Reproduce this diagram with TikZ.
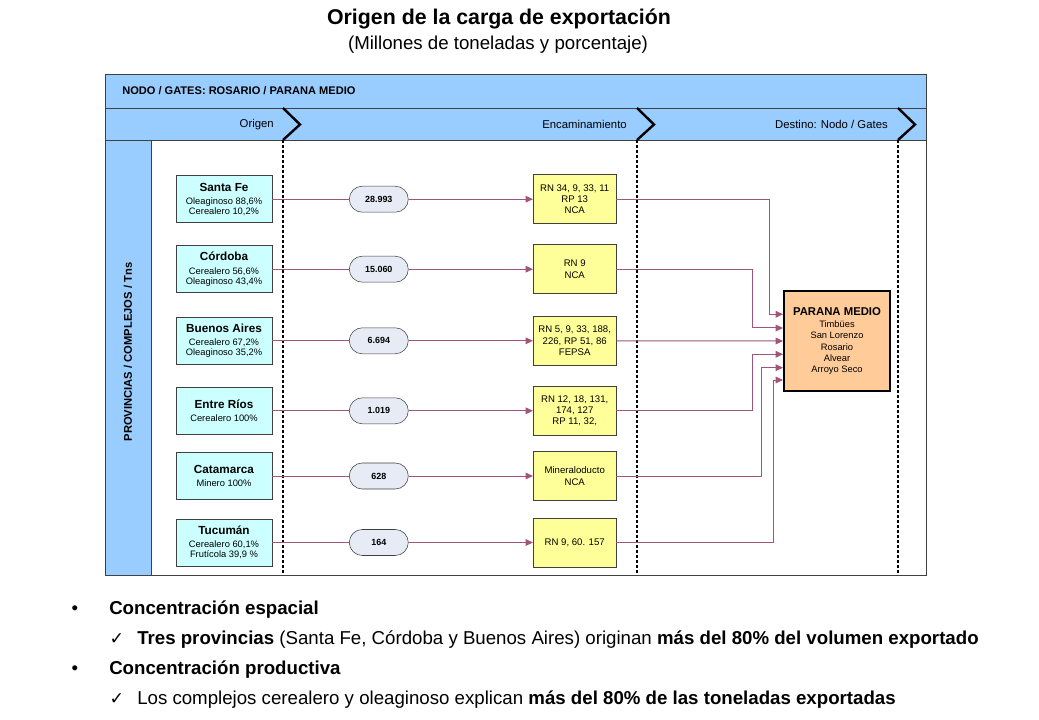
\documentclass[tikz,border=0pt]{standalone}
\usepackage{fontspec}
\setmainfont{Liberation Sans}
\newfontfamily\checkfont{DejaVu Sans}
\usetikzlibrary{arrows.meta}

\definecolor{hdrblue}{RGB}{153,204,255}
\definecolor{framegray}{RGB}{64,64,64}
\definecolor{provcyan}{RGB}{204,255,255}
\definecolor{routeyellow}{RGB}{255,255,153}
\definecolor{pillgray}{RGB}{230,235,245}
\definecolor{destorange}{RGB}{255,204,153}
\definecolor{linkcol}{RGB}{163,84,124}

\begin{document}
\begin{tikzpicture}[x=0.75pt,y=0.75pt,yscale=-1,xscale=1,
    prov/.style={draw=framegray, fill=provcyan, minimum width=72pt, minimum height=35.25pt, inner sep=0pt, align=center, font=\fontsize{7}{7.5}\selectfont},
    tonpill/.style={draw=framegray, fill=pillgray, rounded corners=9.75pt, minimum width=44.25pt, minimum height=19.5pt, inner sep=0pt, font=\fontsize{6.7}{8}\selectfont\bfseries},
    route/.style={draw=framegray, fill=routeyellow, minimum width=62.25pt, minimum height=36.75pt, inner sep=0pt, align=center, font=\fontsize{7.2}{8.5}\selectfont},
    link/.style={draw=linkcol, line width=0.75pt},
    linkarrow/.style={link, -{Triangle[length=5.5pt,width=5pt]}},
    gate/.style={line width=1.5pt, dash pattern=on 2.25pt off 1.5pt},
    chevron/.style={line width=1.8pt, line join=miter},
    colhead/.style={anchor=east, inner sep=0.75pt, font=\fontsize{8.5}{10}\selectfont}]
    \useasboundingbox (0,0) rectangle (1039,720);

    % Text Node
    \node (title) [anchor=base, inner sep=0.75pt, font=\fontsize{16}{19}\selectfont\bfseries] at (499,25) {Origen de la carga de exportación};
    % Text Node
    \node (subtitle) [anchor=base, inner sep=0.75pt, font=\fontsize{14}{16}\selectfont] at (498,50) {(Millones de toneladas y porcentaje)};

    %Shape: Rectangle [frame and header rows]
    \draw [draw=framegray, fill=hdrblue] (105,74) rectangle (926,108);
    \draw [draw=framegray, fill=hdrblue] (105,108) rectangle (926,140);
    \draw [draw=framegray, fill=white] (105,140) rectangle (926,575);
    \draw [draw=framegray, fill=hdrblue] (105,140) rectangle (151,575);

    % Text Node
    \node (nodo) [anchor=west, inner sep=0.75pt, font=\fontsize{8.3}{10}\selectfont\bfseries] at (121,91) {NODO / GATES: ROSARIO / PARANA MEDIO};
    % Text Node
    \node (hdorigen) [colhead] at (275,124.5) {Origen};
    \node (hdencam) [colhead] at (628,124.5) {Encaminamiento};
    \node (hddestino) [colhead] at (889,124.5) {Destino: Nodo / Gates};
    % Text Node
    \node (provband) [rotate=90, inner sep=0.75pt, font=\fontsize{8.4}{10}\selectfont\bfseries] at (128,352) {PROVINCIAS / COMPLEJOS / Tns};

    %Straight Lines [gates]
    \foreach \gx in {283,637,898} {
        \draw [gate] (\gx,140) -- (\gx,575);
        \draw [chevron] (\gx,108) -- (\gx+17,124.5) -- (\gx,140);
    }

    % Provinces
    \node (sf) [prov] at (224,199.2) {{\fontsize{8.8}{10}\selectfont\bfseries Santa Fe}\\[2.5pt] Oleaginoso 88,6\%\\ Cerealero 10,2\%};
    \node (cor) [prov] at (224,269.2) {{\fontsize{8.8}{10}\selectfont\bfseries Córdoba}\\[2.5pt] Cerealero 56,6\%\\ Oleaginoso 43,4\%};
    \node (ba) [prov] at (224,340.8) {{\fontsize{8.8}{10}\selectfont\bfseries Buenos Aires}\\[2.5pt] Cerealero 67,2\%\\ Oleaginoso 35,2\%};
    \node (er) [prov] at (224,410.8) {{\fontsize{8.8}{10}\selectfont\bfseries Entre Ríos}\\[2.5pt] Cerealero 100\%};
    \node (cat) [prov] at (224,476) {{\fontsize{8.8}{10}\selectfont\bfseries Catamarca}\\[2.5pt] Minero 100\%};
    \node (tuc) [prov] at (224,542.5) {{\fontsize{8.8}{10}\selectfont\bfseries Tucumán}\\[2.5pt] Cerealero 60,1\%\\ Frutícola 39,9 \%};

    % Tonnage pills
    \node (sfp) [tonpill] at (378.8,199.2) {28.993};
    \node (corp) [tonpill] at (378.8,269.2) {15.060};
    \node (bap) [tonpill] at (378.8,340.8) {6.694};
    \node (erp) [tonpill] at (378.8,410.8) {1.019};
    \node (catp) [tonpill] at (378.8,476) {628};
    \node (tucp) [tonpill] at (378.8,542.5) {164};

    % Routes
    \node (sfr) [route] at (574.7,199.2) {RN 34, 9, 33, 11\\ RP 13\\ NCA};
    \node (corr) [route] at (574.7,269.2) {RN 9\\ NCA};
    \node (bar) [route] at (574.7,340.8) {RN 5, 9, 33, 188,\\ 226, RP 51, 86\\ FEPSA};
    \node (err) [route] at (574.7,410.8) {RN 12, 18, 131,\\ 174, 127\\ RP 11, 32,};
    \node (catr) [route] at (574.7,476) {Mineraloducto\\ NCA};
    \node (tucr) [route] at (574.7,542.5) {RN 9, 60. 157};

    % Destination
    \node (dest) [draw=black, line width=2.2pt, fill=destorange, minimum width=79.5pt, minimum height=75pt, inner sep=0pt, align=center, font=\fontsize{7}{8.5}\selectfont] at (837,341) {{\fontsize{8.5}{10}\selectfont\bfseries PARANA MEDIO}\\[0.7pt] Timbües\\ San Lorenzo\\ Rosario\\ Alvear\\ Arroyo Seco};
    \coordinate (in1) at (783,314.3);
    \coordinate (in2) at (783,328);
    \coordinate (in3) at (783,341);
    \coordinate (in4) at (783,354.3);
    \coordinate (in5) at (783,367.7);
    \coordinate (in6) at (783,380);

    %Straight Lines [province to pill to route]
    \foreach \p in {sf,cor,ba,er,cat,tuc} {
        \draw [link] (\p) -- (\p p);
        \draw [linkarrow] (\p p) -- (\p r);
    }

    %Straight Lines [route to destination]
    \draw [linkarrow] (sfr.east) -- ++(153,0) |- (in1);
    \draw [linkarrow] (corr.east) -- ++(136,0) |- (in2);
    \draw [linkarrow] (bar.east) -- (in3);
    \draw [linkarrow] (err.east) -- ++(136,0) |- (in4);
    \draw [linkarrow] (catr.east) -- ++(145,0) |- (in5);
    \draw [linkarrow] (tucr.east) -- ++(157,0) |- (in6);

    % Text Node
    \node (b1dot) [anchor=base, inner sep=0.75pt, font=\fontsize{14}{16}\selectfont] at (75,614) {•};
    \node (b1) [anchor=base west, inner sep=0.75pt, font=\fontsize{14}{16}\selectfont\bfseries] at (108,614) {Concentración espacial};
    % Text Node
    \node (c1mark) [anchor=base, inner sep=0.75pt, font=\fontsize{13}{15}\checkfont] at (117,644) {✓};
    \node (c1) [anchor=base west, inner sep=0.75pt, font=\fontsize{14}{16}\selectfont] at (136,644) {\textbf{Tres provincias} (Santa Fe, Córdoba y Buenos Aires) originan \textbf{más del 80\% del volumen exportado}};
    % Text Node
    \node (b2dot) [anchor=base, inner sep=0.75pt, font=\fontsize{14}{16}\selectfont] at (75,674) {•};
    \node (b2) [anchor=base west, inner sep=0.75pt, font=\fontsize{14}{16}\selectfont\bfseries] at (108,674) {Concentración productiva};
    % Text Node
    \node (c2mark) [anchor=base, inner sep=0.75pt, font=\fontsize{13}{15}\checkfont] at (117,704) {✓};
    \node (c2) [anchor=base west, inner sep=0.75pt, font=\fontsize{14}{16}\selectfont] at (136,704) {Los complejos cerealero y oleaginoso explican \textbf{más del 80\% de las toneladas exportadas}};

\end{tikzpicture}
\end{document}
